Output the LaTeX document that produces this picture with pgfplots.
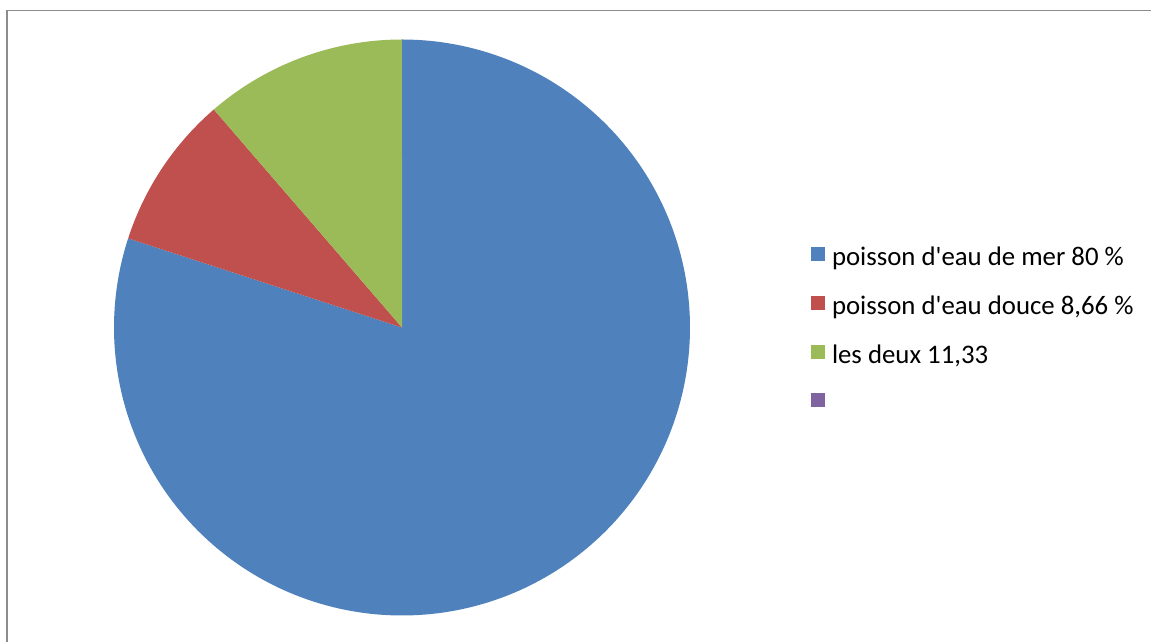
\documentclass[border=0pt]{standalone}
\usepackage{fontspec}
\setmainfont{Carlito}
\usepackage{pgfplots}
\pgfplotsset{compat=1.18}
\definecolor{cblue}{HTML}{4F81BD}
\definecolor{cred}{HTML}{C0504D}
\definecolor{cgreen}{HTML}{9BBB59}
\definecolor{cpurple}{HTML}{8064A2}
% values (percent)
\def\va{80}
\def\vb{8.66}
\def\vc{11.33}
\def\vd{0}
\begin{document}
\begin{tikzpicture}
\pgfmathsetmacro{\tot}{\va+\vb+\vc+\vd}
\pgfmathsetmacro{\aA}{90}
\pgfmathsetmacro{\aB}{\aA-3.6*(\va/\tot)*100}
\pgfmathsetmacro{\aC}{\aB-3.6*(\vb/\tot)*100}
\pgfmathsetmacro{\aD}{\aC-3.6*(\vc/\tot)*100}
\def\cx{402}\def\cy{314.5}\def\R{288}
\begin{axis}[
  scale only axis, width=1151pt, height=642pt,
  xmin=0, xmax=1151, ymin=0, ymax=642,
  hide axis, clip=false,
  area legend,
  legend image code/.code={\fill[#1] (0pt,-5pt) rectangle (14pt,9pt);},
  legend style={at={(axis cs:811,399)}, anchor=north west, draw=none, fill=none,
    font=\fontsize{26.8}{30}\selectfont, row sep=22.2pt,
    /tikz/every odd column/.append style={column sep=5pt},
    cells={anchor=west}, inner sep=0pt, outer sep=0pt},
  legend cell align=left,
]
\path (axis cs:0,0) rectangle (axis cs:1151,642);
\draw[overlay, color=black!45, line width=1.6pt] (axis cs:7,-20) -- (axis cs:7,631.5) -- (axis cs:1170,631.5);
\addplot[fill=cblue, draw=none, domain=\aA:\aB, samples=300] ({\cx+\R*cos(x)},{\cy+\R*sin(x)}) -- (axis cs:\cx,\cy) -- cycle;
\addlegendentry{\strut poisson d\textquotesingle eau de mer 80 \%}
\addplot[fill=cred, draw=none, domain=\aB:\aC, samples=60] ({\cx+\R*cos(x)},{\cy+\R*sin(x)}) -- (axis cs:\cx,\cy) -- cycle;
\addlegendentry{\strut poisson d\textquotesingle eau douce 8,66 \%}
\addplot[fill=cgreen, draw=none, domain=\aC:\aD, samples=60] ({\cx+\R*cos(x)},{\cy+\R*sin(x)}) -- (axis cs:\cx,\cy) -- cycle;
\addlegendentry{\strut les deux 11,33}
\addlegendimage{fill=cpurple, draw=none}
\addlegendentry{\strut}
\end{axis}
\end{tikzpicture}
\end{document}
